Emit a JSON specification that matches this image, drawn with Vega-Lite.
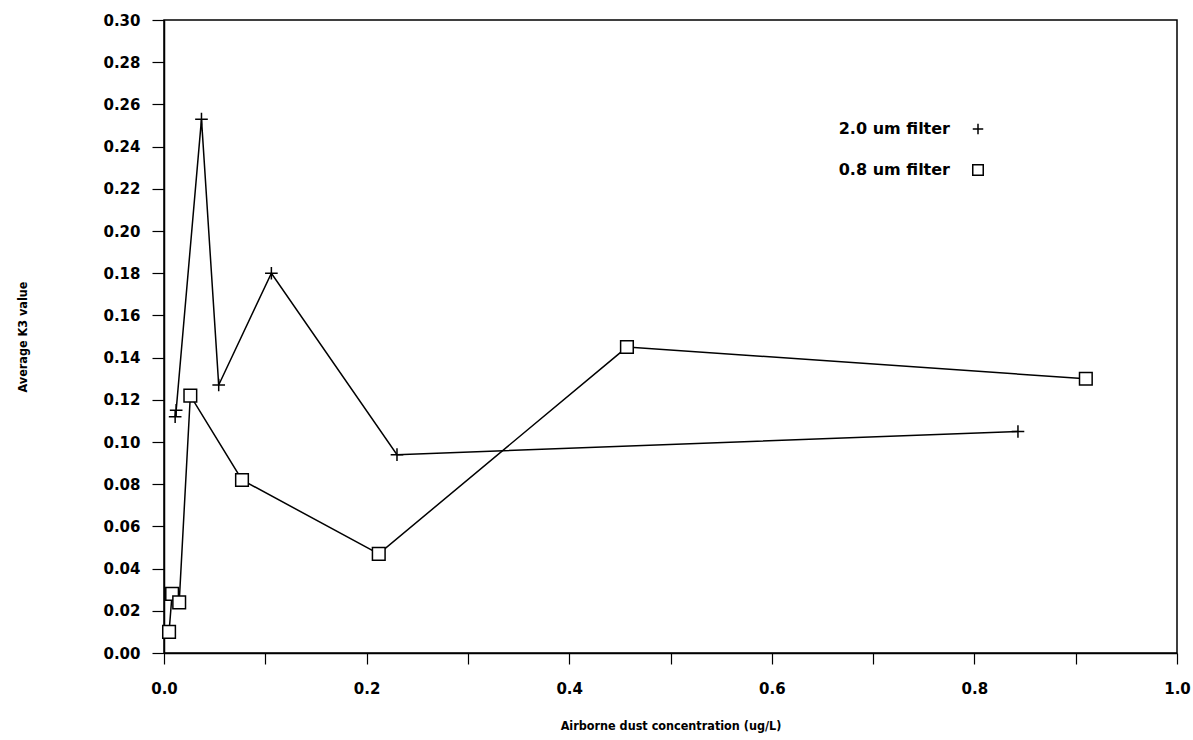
{
  "$schema": "https://vega.github.io/schema/vega-lite/v6.json",
  "width": 1013,
  "height": 633,
  "autosize": {"type": "none"},
  "padding": {"left": 164, "top": 20, "right": 16, "bottom": 87},
  "background": "white",
  "config": {
    "font": "DejaVu Sans",
    "view": {"stroke": "black", "strokeWidth": 1.5},
    "axis": {"grid": false, "domainColor": "black", "domainWidth": 1.5, "tickColor": "black", "tickWidth": 1.2,
             "labelFont": "DejaVu Sans", "labelFontWeight": "bold", "labelFontSize": 15, "labelColor": "black",
             "titleFont": "DejaVu Sans Condensed", "titleFontWeight": "bold", "titleFontSize": 12.5, "titleColor": "black"}
  },
  "data": {"values": [
    {"series": "2.0 um filter", "conc": 0.011, "k3": 0.112},
    {"series": "2.0 um filter", "conc": 0.012, "k3": 0.115},
    {"series": "2.0 um filter", "conc": 0.037, "k3": 0.253},
    {"series": "2.0 um filter", "conc": 0.054, "k3": 0.127},
    {"series": "2.0 um filter", "conc": 0.106, "k3": 0.180},
    {"series": "2.0 um filter", "conc": 0.230, "k3": 0.094},
    {"series": "2.0 um filter", "conc": 0.843, "k3": 0.105},
    {"series": "0.8 um filter", "conc": 0.005, "k3": 0.010},
    {"series": "0.8 um filter", "conc": 0.008, "k3": 0.028},
    {"series": "0.8 um filter", "conc": 0.015, "k3": 0.024},
    {"series": "0.8 um filter", "conc": 0.026, "k3": 0.122},
    {"series": "0.8 um filter", "conc": 0.077, "k3": 0.082},
    {"series": "0.8 um filter", "conc": 0.212, "k3": 0.047},
    {"series": "0.8 um filter", "conc": 0.457, "k3": 0.145},
    {"series": "0.8 um filter", "conc": 0.910, "k3": 0.130}
  ]},
  "encoding": {
    "x": {"field": "conc", "type": "quantitative",
          "scale": {"domain": [0, 1], "nice": false, "zero": false},
          "axis": {"title": "Airborne dust concentration (ug/L)", "values": [0,0.1,0.2,0.3,0.4,0.5,0.6,0.7,0.8,0.9,1.0],
                   "labelExpr": "round(datum.value*10) % 2 == 0 ? format(datum.value, '.1f') : ''",
                   "tickSize": 11, "labelPadding": 17, "labelFlush": false, "titleY": 72, "titleBaseline": "middle"}},
    "y": {"field": "k3", "type": "quantitative",
          "scale": {"domain": [0, 0.3], "nice": false},
          "axis": {"title": "Average K3 value", "values": [0,0.02,0.04,0.06,0.08,0.1,0.12,0.14,0.16,0.18,0.2,0.22,0.24,0.26,0.28,0.3],
                   "format": ".2f", "tickSize": 12, "labelPadding": 12, "labelFlush": false,
                   "titleX": -142, "titleBaseline": "middle"}}
  },
  "layer": [
    {"mark": {"type": "line", "color": "black", "strokeWidth": 1.5},
     "encoding": {"detail": {"field": "series", "type": "nominal"}}},
    {"mark": {"type": "point", "filled": true, "fill": "white", "stroke": "black", "strokeWidth": 1.5, "opacity": 1},
     "encoding": {
       "shape": {"field": "series", "type": "nominal",
                 "scale": {"domain": ["2.0 um filter", "0.8 um filter"], "range": ["M-1,0H1M0,-1V1", "square"]},
                 "legend": {"title": null, "orient": "none", "legendX": 806, "legendY": 101, "padding": 0,
                            "labelAlign": "right", "labelOffset": -36, "labelFont": "DejaVu Sans", "labelFontWeight": "bold",
                            "labelFontSize": 16, "labelColor": "black", "symbolSize": 110, "rowPadding": 23,
                            "encode": {"symbols": {"update": {"stroke": {"value": "black"}, "fill": {"value": "white"},
                                                               "strokeWidth": {"value": 1.5}, "opacity": {"value": 1}}}}}},
       "size": {"value": 160}
     }}
  ]
}
